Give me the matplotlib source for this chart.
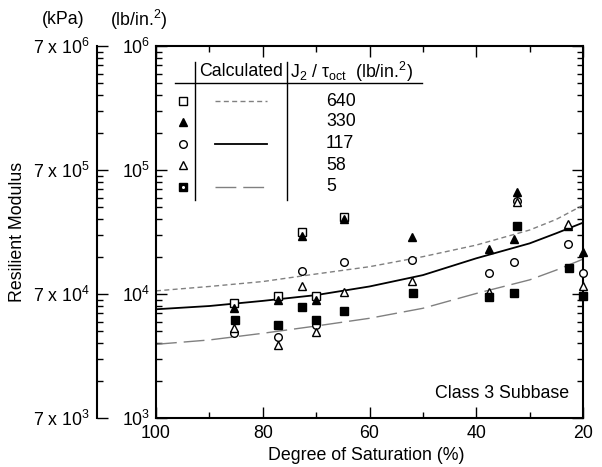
import matplotlib
matplotlib.use("Agg")
import matplotlib.pyplot as plt
from matplotlib.lines import Line2D
from matplotlib.ticker import LogLocator, MultipleLocator, NullFormatter, FuncFormatter

plt.rcParams["font.family"] = ["Liberation Sans", "DejaVu Sans"]
plt.rcParams["mathtext.fontset"] = "custom"
plt.rcParams["mathtext.rm"] = "Liberation Sans"
plt.rcParams["mathtext.it"] = "Liberation Sans"
plt.rcParams["mathtext.bf"] = "Liberation Sans:bold"

FS = 12.8
W, H = 602, 467

# ── Measured data (resilient modulus, lb/in.^2) ──────────────────────────────
sat_640 = [85.3, 77.1, 72.7, 70.1, 64.8]
mr_640 = [8410, 9640, 31800, 9640, 41600]

sat_330 = [85.3, 77.2, 72.7, 70.1, 64.8, 52.0, 37.7, 32.4, 33.0, 22.8, 20.0]
mr_330 = [7670, 8960, 29500, 8960, 40000, 28600, 22900, 66800, 27800, 35300, 21700]

sat_117 = [85.3, 77.1, 72.7, 70.1, 64.8, 52.0, 37.7, 32.4, 33.0, 22.8, 20.0]
mr_117 = [4820, 4530, 15400, 5620, 18000, 18800, 14700, 56200, 18100, 25300, 14700]

sat_58 = [85.3, 77.1, 72.7, 70.1, 64.8, 52.0, 37.7, 32.4, 22.8, 20.0]
mr_58 = [5280, 3880, 11500, 4970, 10300, 12800, 10400, 55500, 36500, 11500]

sat_5 = [85.2, 77.1, 72.7, 70.0, 64.8, 51.9, 37.7, 32.3, 33.0, 22.7, 20.0]
mr_5 = [6170, 5620, 7910, 6170, 7330, 10100, 9400, 35500, 10100, 16300, 9640]

# ── Calculated curves ────────────────────────────────────────────────────────
sat_calc = [100, 90, 80, 70, 60, 50, 40, 30, 25, 20]
calc_640 = [10600, 11500, 12600, 14500, 16600, 20000, 24800, 32800, 40000, 52000]
calc_117 = [7530, 8000, 8800, 9800, 11500, 14200, 19400, 25600, 30900, 37600]
calc_5 = [3930, 4260, 4820, 5520, 6370, 7670, 10100, 13000, 15600, 19100]

GRAY = "#808080"


def fx(x):
    return x / W


def fy(y):
    return 1 - y / H


fig = plt.figure(figsize=(W / 100, H / 100), dpi=100)
fig.patch.set_facecolor("white")

left, right, top, bottom = 156, 583, 46, 418
ax = fig.add_axes([fx(left), fy(bottom), (right - left) / W, (bottom - top) / H])

ax.plot(sat_calc, calc_640, color=GRAY, lw=1.0, dashes=(3.6, 2.4))
ax.plot(sat_calc, calc_117, color="black", lw=1.3)
ax.plot(sat_calc, calc_5, color=GRAY, lw=1.0, dashes=(15, 5))

mk = dict(ls="none", markersize=5.5, markeredgewidth=1.0, markeredgecolor="black",
          clip_on=False, zorder=5)
ax.plot(sat_640, mr_640, marker="s", markerfacecolor="white", **mk)
ax.plot(sat_330, mr_330, marker="^", markerfacecolor="black", **mk)
ax.plot(sat_117, mr_117, marker="o", markerfacecolor="white", **mk)
ax.plot(sat_58, mr_58, marker="^", markerfacecolor="white", **mk)
ax.plot(sat_5, mr_5, marker="s", markerfacecolor="black", **mk)

ax.set_yscale("log")
ax.set_ylim(1e3, 1e6)
ax.set_xlim(100, 20)
ax.xaxis.set_major_locator(MultipleLocator(20))
ax.xaxis.set_minor_locator(MultipleLocator(10))
ax.yaxis.set_major_locator(LogLocator(base=10, numticks=10))
ax.yaxis.set_minor_locator(LogLocator(base=10, subs=range(2, 10), numticks=20))
ax.yaxis.set_minor_formatter(NullFormatter())
ax.yaxis.set_major_formatter(FuncFormatter(lambda v, p: r"10$^{%d}$" % round(__import__("math").log10(v))))
ax.tick_params(which="both", direction="in", top=True, right=True, width=1.0, labelsize=FS)
ax.tick_params(which="major", length=8)
ax.tick_params(which="minor", length=4.5)
ax.tick_params(axis="x", pad=5)
ax.tick_params(axis="y", pad=4)
for s in ax.spines.values():
    s.set_linewidth(1.5)

# ── kPa axis ─────────────────────────────────────────────────────────────────
ax2 = fig.add_axes([fx(97), fy(bottom), 0.0005, (bottom - top) / H])
ax2.set_yscale("log")
ax2.set_ylim(1e3, 1e6)
ax2.set_xticks([])
for k in ("top", "right", "bottom"):
    ax2.spines[k].set_visible(False)
ax2.spines["left"].set_linewidth(1.5)
ax2.patch.set_alpha(0)
ax2.yaxis.set_major_locator(LogLocator(base=10, numticks=10))
ax2.yaxis.set_minor_locator(LogLocator(base=10, subs=range(2, 10), numticks=20))
ax2.yaxis.set_minor_formatter(NullFormatter())
ax2.yaxis.set_major_formatter(FuncFormatter(lambda v, p: r"7 x 10$^{%d}$" % round(__import__("math").log10(v))))
ax2.tick_params(which="both", direction="in", width=1.0, labelsize=FS, pad=5)
ax2.tick_params(which="major", length=8)
ax2.tick_params(which="minor", length=4.5)

# ── Axis texts ───────────────────────────────────────────────────────────────
fig.text(fx(18), fy(232), "Resilient Modulus", rotation=90, ha="center", va="center", fontsize=FS)
fig.text(fx(63), fy(20), "(kPa)", ha="center", va="center", fontsize=FS)
fig.text(fx(110), fy(20), r"(lb/in.$^{2}$)", ha="left", va="center", fontsize=FS)
fig.text(fx(366), fy(455), "Degree of Saturation (%)", ha="center", va="center", fontsize=FS)
fig.text(fx(569), fy(393), "Class 3 Subbase", ha="right", va="center", fontsize=FS)

# ── Legend table ─────────────────────────────────────────────────────────────
fig.add_artist(Line2D([fx(195), fx(195)], [fy(62), fy(200)], color="black", lw=1.0))
fig.add_artist(Line2D([fx(287), fx(287)], [fy(62), fy(200)], color="black", lw=1.0))
fig.add_artist(Line2D([fx(175), fx(422)], [fy(83), fy(83)], color="black", lw=1.0))
fig.text(fx(199), fy(72), "Calculated", ha="left", va="center", fontsize=FS)
fig.text(fx(290), fy(72), r"J$_2$ / $\tau_{\rm oct}$  (lb/in.$^{2}$)", ha="left", va="center", fontsize=FS)

rows_y = [101, 122, 143.5, 165, 186.5]
row_labels = ["640", "330", "117", "58", "5"]
row_markers = [("s", "white"), ("^", "black"), ("o", "white"), ("^", "white"), ("s", "black")]
for y, lab, (m, fc) in zip(rows_y, row_labels, row_markers):
    fig.add_artist(Line2D([fx(183)], [fy(y)], marker=m, markersize=5.5, markerfacecolor=fc,
                          markeredgecolor="black", markeredgewidth=1.0, ls="none"))
    fig.text(fx(326), fy(y), lab, ha="left", va="center", fontsize=FS)
fig.add_artist(Line2D([fx(183)], [fy(rows_y[4])], marker="o", markersize=1.2,
                      markerfacecolor="white", markeredgecolor="white", ls="none"))

fig.add_artist(Line2D([fx(215), fx(267)], [fy(rows_y[0])] * 2, color=GRAY, lw=1.0, dashes=(3.6, 2.4)))
fig.add_artist(Line2D([fx(215), fx(267)], [fy(rows_y[2])] * 2, color="black", lw=1.3))
fig.add_artist(Line2D([fx(215), fx(267)], [fy(rows_y[4])] * 2, color=GRAY, lw=1.0, dashes=(15, 5)))

fig.savefig("out.png", dpi=100, facecolor="white")
